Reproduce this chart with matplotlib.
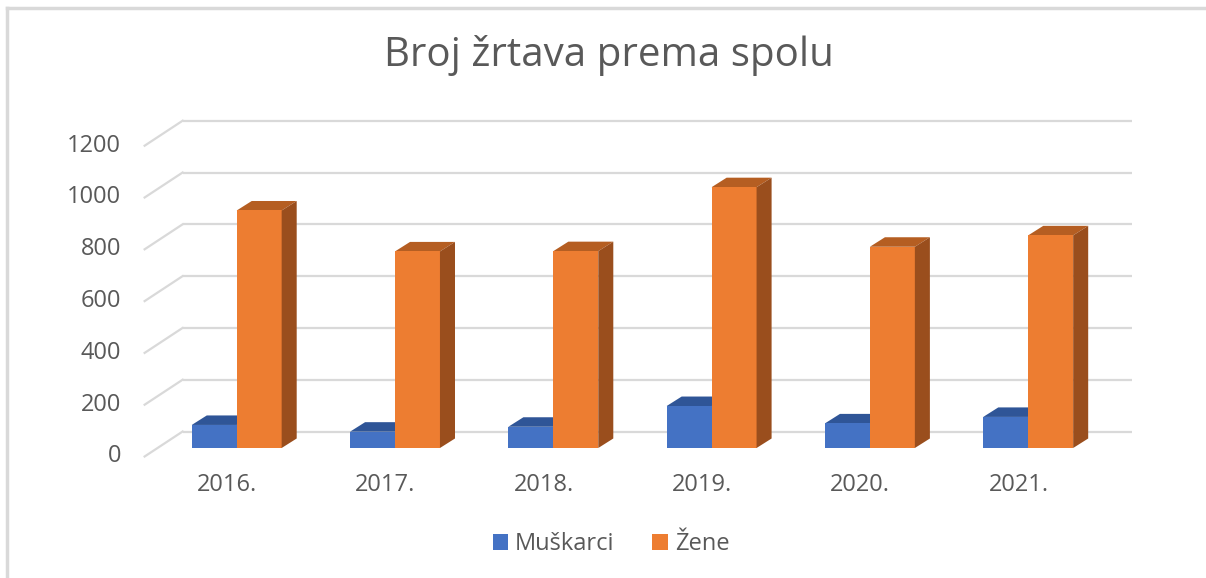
import matplotlib
matplotlib.use("Agg")

import matplotlib.pyplot as plt
from matplotlib.patches import Polygon, Patch
from matplotlib.lines import Line2D
import numpy as np

plt.rcParams['font.family'] = ['Open Sans', 'DejaVu Sans']

years = ['2016.', '2017.', '2018.', '2019.', '2020.', '2021.']
muskarci = [89, 63, 82, 162, 95, 120]
zene = [917, 759, 760, 1007, 777, 821]
y_ticks = [0, 200, 400, 600, 800, 1000, 1200]

# colours (Excel office palette, with darker shades for the 3D faces)
blue, blue_top = '#4472C4', '#2F5597'
orange, orange_top, orange_side = '#ED7D31', '#B55E22', '#9A4E1D'
grid_c = '#d9d9d9'
text_c = '#595959'

W, H = 1206, 578
fig = plt.figure(figsize=(W / 100, H / 100), dpi=100)

# pixel mapping of the "bar front plane"
x0_px, px_per_cat = 236.7, 158.3
y0_px, px_per_unit = 448.0, 0.259
xlim = (-1.0, 6.2)
ylim = (-200, 1400)
left = (x0_px + xlim[0] * px_per_cat) / W
width = (xlim[1] - xlim[0]) * px_per_cat / W
bottom = (H - (y0_px - ylim[0] * px_per_unit)) / H
height = (ylim[1] - ylim[0]) * px_per_unit / H
ax = fig.add_axes([left, bottom, width, height])
ax.set_xlim(*xlim)
ax.set_ylim(*ylim)
ax.axis('off')

# depth vector of the whole floor and of one bar (category units, value units)
depth = np.array([0.24, 96.5])
front_f, back_f = 0.34, 0.66
bar_d = np.array([0.095, 36.7])
bw = 0.284

# gridlines: back wall + left side wall diagonals
for v in y_ticks:
    bx = -0.5 + back_f * depth[0]
    by = v + back_f * depth[1]
    fx = -0.5 - front_f * depth[0]
    fy = v - front_f * depth[1]
    ax.plot([bx, 5.5 + back_f * depth[0]], [by, by],
            color=grid_c, lw=1.6, zorder=1, solid_capstyle='butt')
    ax.plot([fx, bx], [fy, by], color=grid_c, lw=1.6, zorder=1)
    ax.text(fx - 0.15, fy, str(v), ha='right', va='center',
            fontsize=17, color=text_c)

# 3D columns
for i in range(len(years)):
    for val, xs, fc, tc in [(muskarci[i], i - bw, blue, blue_top),
                            (zene[i], i, orange, orange_top)]:
        ax.bar(xs, val, width=bw, align='edge', color=fc, zorder=3,
               linewidth=0)
        top = [(xs, val), (xs + bw, val), (xs + bw + bar_d[0], val + bar_d[1]),
               (xs + bar_d[0], val + bar_d[1])]
        ax.add_patch(Polygon(top, closed=True, facecolor=tc, lw=0, zorder=2.9))
    xs = i + bw
    side = [(xs, 0), (xs + bar_d[0], bar_d[1]),
            (xs + bar_d[0], zene[i] + bar_d[1]), (xs, zene[i])]
    ax.add_patch(Polygon(side, closed=True, facecolor=orange_side, lw=0, zorder=3))
    ax.text(i - front_f * depth[0] + 0.02, -143, years[i], ha='center',
            va='center', fontsize=17, color=text_c)

fig.text(609 / W, 1 - 56 / H, 'Broj žrtava prema spolu', ha='center',
         va='center', fontsize=29, color=text_c)

handles = [Patch(facecolor=blue, label='Muškarci'),
           Patch(facecolor=orange, label='Žene')]
fig.legend(handles=handles, loc='center', bbox_to_anchor=(611 / W, 1 - 544 / H),
           ncol=2, frameon=False, fontsize=17, handlelength=0.65,
           handleheight=0.65, handletextpad=0.3, columnspacing=1.6,
           labelcolor=text_c)

# chart border (top and left only are visible)
fig.add_artist(Line2D([7 / W, 7 / W], [0, 1 - 8 / H], color=grid_c, lw=2.5,
                      transform=fig.transFigure))
fig.add_artist(Line2D([7 / W, 1], [1 - 8 / H, 1 - 8 / H], color=grid_c, lw=2.5,
                      transform=fig.transFigure))

fig.savefig('out.png', dpi=100)
